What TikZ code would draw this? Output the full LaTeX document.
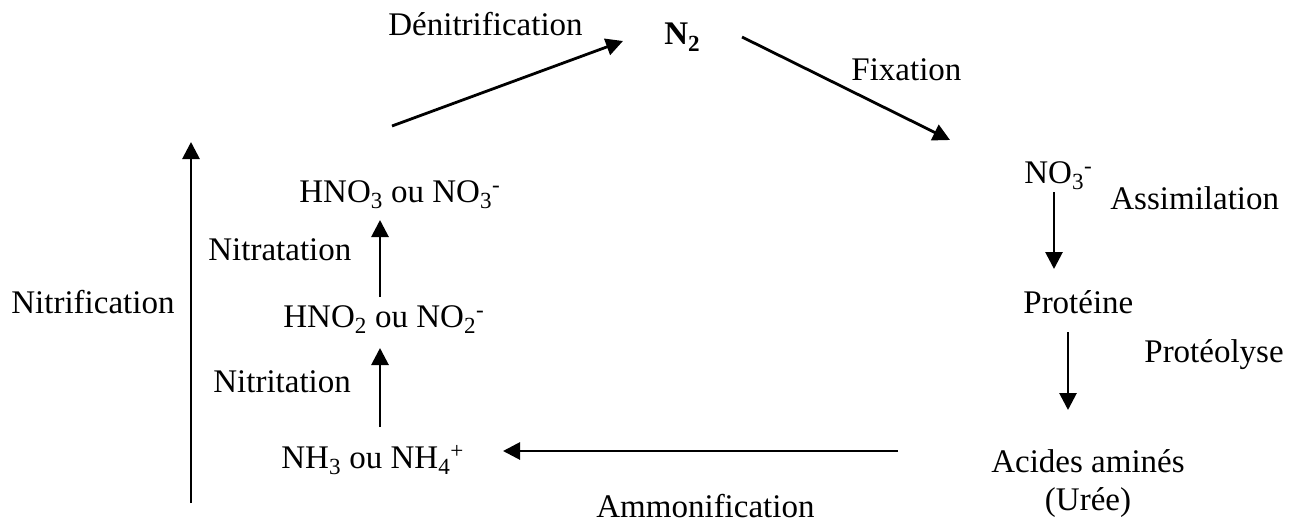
\documentclass[tikz,border=0pt]{standalone}
\usepackage{fontspec}
\setmainfont{Liberation Serif}
\usetikzlibrary{arrows.meta}

\begin{document}
\begin{tikzpicture}[x=1pt,y=-1pt,>={Triangle[length=17pt,width=17pt]},line width=2.8pt,
	every node/.style={inner sep=0pt,anchor=base west,font=\fontsize{33}{38}\selectfont}]
\def\fleche#1#2{
	\draw[->] (#1) -- (#2);
}
\useasboundingbox (0,0) rectangle (1294,522);

\coordinate (d1) at (392,126);
\coordinate (d2) at (623,41);
\coordinate (f1) at (742,37);
\coordinate (f2) at (950,140);
\coordinate (s1) at (1054,192);
\coordinate (s2) at (1054,269);
\coordinate (p1) at (1068,332);
\coordinate (p2) at (1068,410);
\coordinate (m1) at (898,451);
\coordinate (m2) at (503,451);
\coordinate (t1) at (380,427);
\coordinate (t2) at (380,348);
\coordinate (r1) at (380,297);
\coordinate (r2) at (380,220);
\coordinate (n1) at (191,503);
\coordinate (n2) at (191,142);

\node (den) at (387,35) {Dénitrification};
\node (azote) at (663,45) {\bfseries N\textsubscript{2}};
\node (fix) at (850,80) {Fixation};
\node (no3) at (1023,183) {NO\textsubscript{3}\textsuperscript{-}};
\node (assim) at (1109,209) {Assimilation};
\node (prot) at (1022,313) {Protéine};
\node (proteo) at (1143,362) {Protéolyse};
\node[anchor=base] (acides) at (1088,472) {Acides aminés};
\node[anchor=base] (uree) at (1088,510) {(Urée)};
\node (amm) at (595,517) {Ammonification};
\node (nh) at (280,468) {NH\textsubscript{3} ou NH\textsubscript{4}\textsuperscript{+}};
\node (nitrit) at (212,392) {Nitritation};
\node (hno2) at (282,327) {HNO\textsubscript{2} ou NO\textsubscript{2}\textsuperscript{-}};
\node (nitrat) at (207,260) {Nitratation};
\node (hno3) at (298,202) {HNO\textsubscript{3} ou NO\textsubscript{3}\textsuperscript{-}};
\node (nitrif) at (10,313) {Nitrification};

\fleche{d1}{d2}
\fleche{f1}{f2}
\fleche{s1}{s2}
\fleche{p1}{p2}
\fleche{m1}{m2}
\fleche{t1}{t2}
\fleche{r1}{r2}
\fleche{n1}{n2}

\end{tikzpicture}
\end{document}
